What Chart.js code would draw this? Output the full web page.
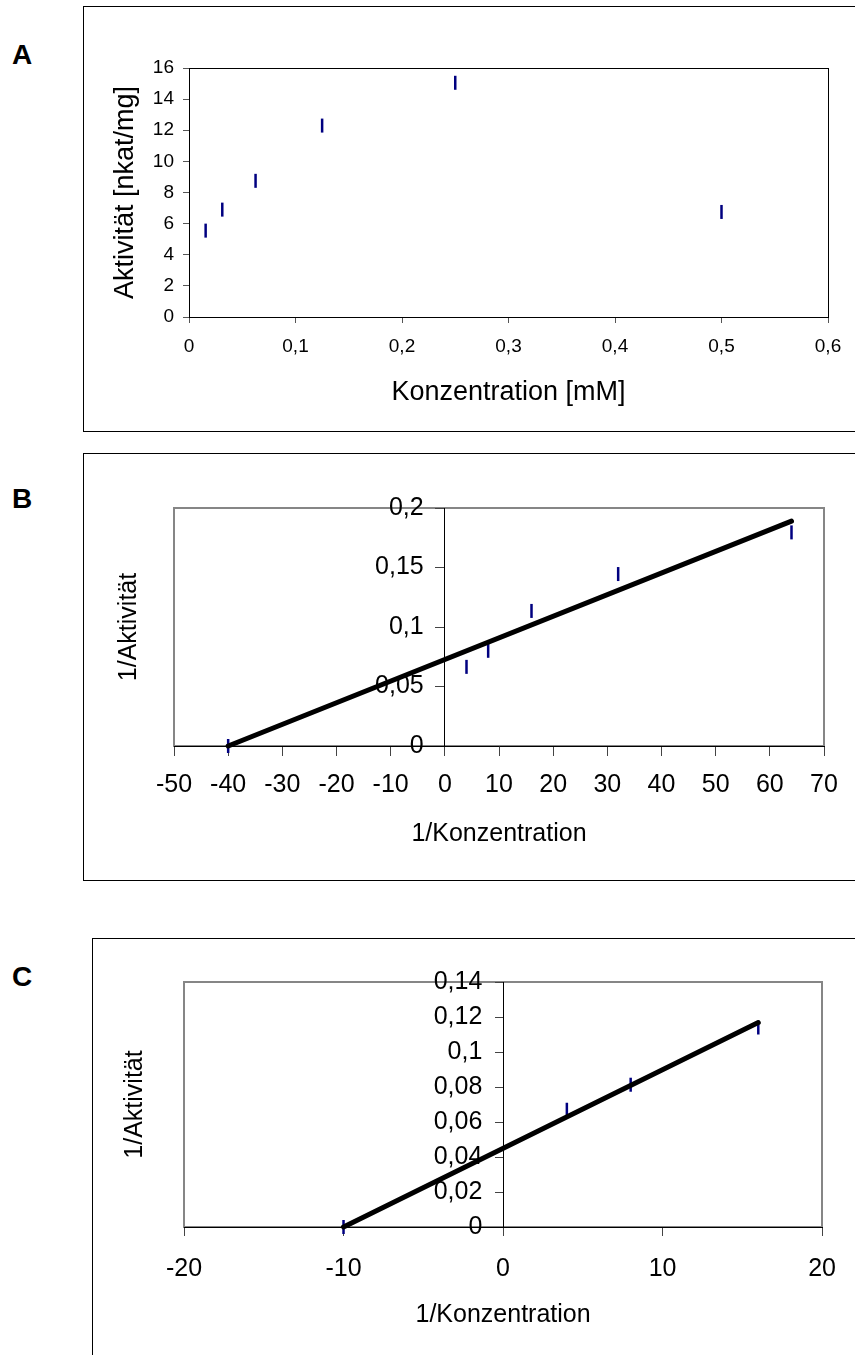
<!DOCTYPE html>
<html><head><meta charset="utf-8">
<script src="https://cdn.jsdelivr.net/npm/chart.js@4.4.1/dist/chart.umd.min.js"></script>
<style>
html,body{margin:0;padding:0;background:#fff;}
body{width:855px;height:1355px;position:relative;overflow:hidden;font-family:"Liberation Sans",Arial,sans-serif;}
.box{position:absolute;border:1px solid #000;box-sizing:border-box;}
.lbl{position:absolute;left:12px;font-weight:bold;font-size:28px;line-height:1;color:#000;}
canvas{position:absolute;left:0;}
</style></head><body>
<div class="box" style="left:83px;top:6px;width:800px;height:426px"></div>
<div class="box" style="left:83px;top:453px;width:800px;height:428px"></div>
<div class="box" style="left:92px;top:938px;width:800px;height:500px"></div>
<div class="lbl" style="top:41px">A</div>
<div class="lbl" style="top:485px">B</div>
<div class="lbl" style="top:963px">C</div>
<canvas id="cA" width="855" height="440" style="top:0"></canvas>
<canvas id="cB" width="855" height="440" style="top:450px"></canvas>
<canvas id="cC" width="855" height="465" style="top:890px"></canvas>
<script>
// ---- data ----
const concA = [0.015625, 0.03125, 0.0625, 0.125, 0.25, 0.5];
const activityA = [5.55, 6.9, 8.75, 12.3, 15.05, 6.75];
const xTicksA = [0, 0.1, 0.2, 0.3, 0.4, 0.5, 0.6];
const yTicksA = [0, 2, 4, 6, 8, 10, 12, 14, 16];

const invConcB = [-40, 4, 8, 16, 32, 64];
const invActB = [0, 0.0665, 0.080, 0.1135, 0.1445, 0.1795];
const fitXB = [-40, 64];
const fitYB = [0, 0.189];
const xTicksB = [-50, -40, -30, -20, -10, 0, 10, 20, 30, 40, 50, 60, 70];
const yTicksB = [0, 0.05, 0.1, 0.15, 0.2];

const invConcC = [-10, 4, 8, 16];
const invActC = [0, 0.067, 0.0813, 0.114];
const fitXC = [-10, 16];
const fitYC = [0, 0.1168];
const xTicksC = [-20, -10, 0, 10, 20];
const yTicksC = [0, 0.02, 0.04, 0.06, 0.08, 0.1, 0.12, 0.14];

// ---- helpers ----
const F = '"Liberation Sans", Arial, sans-serif';
const fmt = v => String(Math.round(v * 10000) / 10000).replace('.', ',');
const pts = (xs, ys) => xs.map((x, i) => ({x: x, y: ys[i]}));
const setTicks = arr => s => { s.ticks = arr.map(v => ({value: v})); };

const framePlugin = {
  id: 'frame',
  beforeDraw(chart, args, o) {
    if (o.phase !== 'before') return;
    drawFrame(chart, o);
  },
  afterDatasetsDraw(chart, args, o) {
    if (o.phase !== 'after') return;
    drawFrame(chart, o);
  }
};
function drawFrame(chart, o) {
  const a = chart.chartArea, ctx = chart.ctx;
  ctx.save();
  ctx.strokeStyle = o.color;
  ctx.lineWidth = o.width;
  ctx.strokeRect(Math.round(a.left) + 0.5 * (o.width % 2), Math.round(a.top) + 0.5 * (o.width % 2),
    Math.round(a.right - a.left), Math.round(a.bottom - a.top));
  ctx.restore();
}

const markerDs = (data) => ({
  type: 'scatter', data: data, showLine: false, order: 1, clip: false,
  pointStyle: 'line', rotation: 90, pointRadius: 7, pointHoverRadius: 7,
  borderColor: '#000080', backgroundColor: '#000080', pointBorderWidth: 2.5, borderWidth: 2.5
});
const fitDs = (data) => ({
  type: 'scatter', data: data, showLine: true, order: 0, clip: false,
  borderColor: '#000', borderWidth: 5, pointRadius: 0, borderCapStyle: 'round', fill: false
});

const tickFont = s => ({size: s, family: F});

// ---- Chart A ----
new Chart(document.getElementById('cA'), {
  type: 'scatter',
  data: {datasets: [markerDs(pts(concA, activityA))]},
  plugins: [framePlugin],
  options: {
    responsive: false, animation: false, events: [],
    layout: {padding: {left: 100, top: 68, right: 27, bottom: 23}},
    plugins: {legend: {display: false}, tooltip: {enabled: false},
      frame: {color: '#000', width: 1, phase: 'after'}},
    scales: {
      x: {type: 'linear', position: 'bottom', min: xTicksA[0], max: xTicksA[xTicksA.length - 1],
        afterBuildTicks: setTicks(xTicksA), afterFit: s => { s.height = 100; },
        grid: {drawOnChartArea: false, drawTicks: true, tickLength: 6, tickColor: '#555', tickWidth: 1},
        border: {display: true, color: '#000', width: 1},
        ticks: {font: tickFont(19), color: '#000', padding: 12.5, callback: v => fmt(v), maxRotation: 0, autoSkip: false},
        title: {display: true, text: 'Konzentration [mM]', font: {size: 27, family: F}, color: '#000', padding: {top: 0, bottom: 8}}
      },
      y: {type: 'linear', position: 'left', min: yTicksA[0], max: yTicksA[yTicksA.length - 1],
        afterBuildTicks: setTicks(yTicksA), afterFit: s => { s.width = 89; },
        grid: {drawOnChartArea: false, drawTicks: true, tickLength: 6, tickColor: '#555', tickWidth: 1},
        border: {display: true, color: '#000', width: 1},
        ticks: {font: tickFont(19), color: '#000', padding: 9, callback: v => fmt(v), autoSkip: false},
        title: {display: true, text: 'Aktivität [nkat/mg]', font: {size: 27, family: F}, color: '#000', padding: {top: 9, bottom: 0}}
      }
    }
  }
});

// ---- Lineweaver-Burk charts (B, C) ----
function lbChart(id, cfg) {
  const yMin = cfg.yTicks[0], yMax = cfg.yTicks[cfg.yTicks.length - 1];
  new Chart(document.getElementById(id), {
    type: 'scatter',
    data: {datasets: [fitDs(cfg.fit), markerDs(cfg.points)]},
    plugins: [framePlugin],
    options: {
      responsive: false, animation: false, events: [],
      layout: {padding: cfg.padding},
      plugins: {legend: {display: false}, tooltip: {enabled: false},
        frame: {color: '#868686', width: 2, phase: 'before'}},
      scales: {
        x: {type: 'linear', position: {y: 0}, min: cfg.xTicks[0], max: cfg.xTicks[cfg.xTicks.length - 1],
          afterBuildTicks: setTicks(cfg.xTicks),
          grid: {drawOnChartArea: false, drawTicks: true, tickLength: cfg.tl, tickColor: '#444', tickWidth: 1},
          border: {display: true, color: '#000', width: 1},
          ticks: {font: tickFont(25), color: '#000', padding: cfg.xPad, callback: v => fmt(v), maxRotation: 0, autoSkip: false}
        },
        y: {type: 'linear', position: {x: 0}, min: yMin, max: yMax,
          afterBuildTicks: setTicks(cfg.yTicks),
          grid: {drawOnChartArea: false, drawTicks: true, tickLength: cfg.tl, tickColor: '#444', tickWidth: 1},
          border: {display: true, color: '#000', width: 1},
          ticks: {display: false}
        },
        // tick labels of the y axis, set off to the left of the axis line
        yl: {type: 'linear', axis: 'y', position: {x: cfg.yLabelAt}, min: yMin, max: yMax,
          afterBuildTicks: setTicks(cfg.yTicks),
          grid: {display: false}, border: {display: false},
          ticks: {font: tickFont(25), color: '#000', padding: 0, callback: v => fmt(v), autoSkip: false}
        },
        xt: {type: 'linear', axis: 'x', position: 'bottom', min: 0, max: 1,
          afterFit: s => { s.height = cfg.xtH; },
          grid: {display: false}, border: {display: false}, ticks: {display: false},
          title: {display: true, text: '1/Konzentration', font: {size: 25, family: F}, color: '#000', padding: {top: 0, bottom: cfg.xtPad}}
        },
        yt: {type: 'linear', axis: 'y', position: 'left', min: 0, max: 1,
          afterFit: s => { s.width = cfg.ytW; },
          grid: {display: false}, border: {display: false}, ticks: {display: false},
          title: {display: true, text: '1/Aktivität', font: {size: 25, family: F}, color: '#000', padding: {top: cfg.ytPad, bottom: 0}}
        }
      }
    }
  });
}

lbChart('cB', {
  points: pts(invConcB, invActB), fit: pts(fitXB, fitYB),
  xTicks: xTicksB, yTicks: yTicksB, yLabelAt: -3.9,
  padding: {left: 100, top: 58, right: 31, bottom: 20},
  tl: 9, xPad: 15, xtH: 124, xtPad: 21, ytW: 74, ytPad: 14
});

lbChart('cC', {
  points: pts(invConcC, invActC), fit: pts(fitXC, fitYC),
  xTicks: xTicksC, yTicks: yTicksC, yLabelAt: -1.3,
  padding: {left: 100, top: 92, right: 27, bottom: 10},
  tl: 8, xPad: 19, xtH: 118, xtPad: 15, ytW: 84, ytPad: 20
});
</script>
</body></html>
